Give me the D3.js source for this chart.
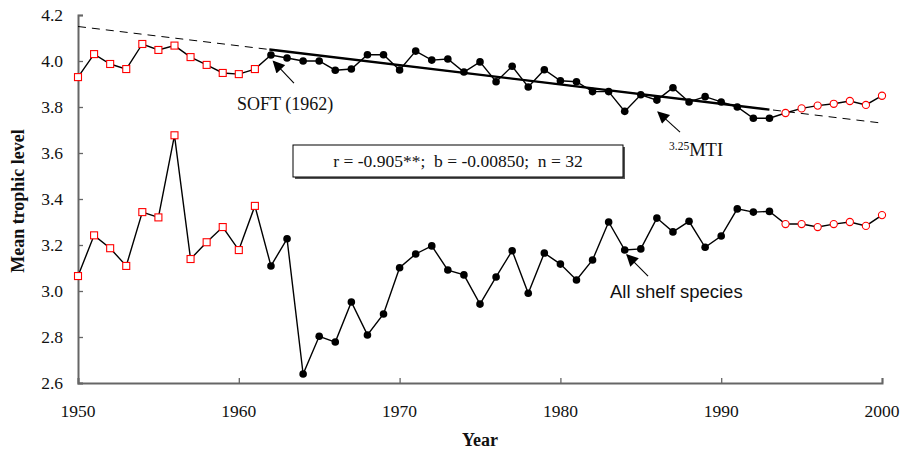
<!DOCTYPE html>
<html lang="en">
<head>
    <meta charset="UTF-8">
    <title>Mean trophic level</title>
    <script src="https://d3js.org/d3.v7.min.js"></script>
    <style>
        body {
            margin: 0;
            background-color: white;
        }
        svg text {
            font-family: "Liberation Serif", "Times New Roman", serif;
            fill: #111;
        }
    </style>
</head>
<body>
    <div id="chart"></div>

    <script>
        // Data
        const years = d3.range(1950, 2001);

        const mtiValues = [
            3.930, 4.030, 3.987, 3.965, 4.074, 4.048, 4.067, 4.017, 3.983, 3.948,
            3.943, 3.965, 4.026, 4.013, 4.000, 4.000, 3.960, 3.965, 4.027, 4.027,
            3.961, 4.043, 4.004, 4.009, 3.952, 3.996, 3.910, 3.977, 3.887, 3.962,
            3.914, 3.910, 3.867, 3.867, 3.781, 3.853, 3.830, 3.884, 3.822, 3.845,
            3.822, 3.800, 3.751, 3.751, 3.774, 3.794, 3.806, 3.814, 3.826, 3.809,
            3.849
        ];

        const shelfValues = [
            3.065, 3.242, 3.186, 3.109, 3.343, 3.320, 3.677, 3.139, 3.212, 3.278,
            3.178, 3.370, 3.109, 3.227, 2.639, 2.803, 2.778, 2.952, 2.809, 2.900,
            3.101, 3.161, 3.196, 3.091, 3.070, 2.943, 3.061, 3.175, 2.990, 3.165,
            3.117, 3.048, 3.135, 3.300, 3.178, 3.183, 3.317, 3.257, 3.303, 3.190,
            3.239, 3.357, 3.343, 3.346, 3.291, 3.291, 3.278, 3.291, 3.300, 3.283,
            3.330
        ];

        // Period boundaries for marker styles
        const fitStart = 1962;
        const fitEnd = 1993;

        // Regression line: value at 1950 and slope per year
        const trendAt1950 = 4.150;
        const trendSlope = -0.0084;

        const xTicks = [1950, 1960, 1970, 1980, 1990, 2000];
        const yTicks = [2.6, 2.8, 3.0, 3.2, 3.4, 3.6, 3.8, 4.0, 4.2];

        const statsText = "r = -0.905**;  b = -0.00850;  n = 32";

        // Layout
        const width = 904;
        const height = 454;
        const margin = { top: 15, right: 22, bottom: 71, left: 78 };

        const svg = d3.select("#chart")
            .append("svg")
            .attr("width", width)
            .attr("height", height);

        const x = d3.scaleLinear()
            .domain([1950, 2000])
            .range([margin.left, width - margin.right]);

        const y = d3.scaleLinear()
            .domain([2.6, 4.2])
            .range([height - margin.bottom, margin.top]);

        // Arrow marker
        svg.append("defs").append("marker")
            .attr("id", "arrow")
            .attr("viewBox", "0 0 10 10")
            .attr("refX", 9)
            .attr("refY", 5)
            .attr("markerWidth", 14)
            .attr("markerHeight", 12)
            .attr("markerUnits", "userSpaceOnUse")
            .attr("orient", "auto")
            .append("path")
            .attr("d", "M0,0 L10,5 L0,10 z")
            .attr("fill", "#000");

        // Axes
        const axisColor = "#666";

        const yAxis = svg.append("g")
            .attr("transform", `translate(${margin.left},0)`)
            .call(d3.axisRight(y).tickValues(yTicks).tickSize(5).tickFormat(""));

        const xAxis = svg.append("g")
            .attr("transform", `translate(0,${height - margin.bottom})`)
            .call(d3.axisTop(x).tickValues(xTicks).tickSize(5).tickFormat(""));

        [xAxis, yAxis].forEach(ax => {
            ax.select(".domain").attr("stroke", axisColor).attr("stroke-width", 2);
            ax.selectAll(".tick line").attr("stroke", axisColor).attr("stroke-width", 1.3);
        });

        svg.selectAll(".ytick-label")
            .data(yTicks)
            .enter().append("text")
            .attr("x", margin.left - 15)
            .attr("y", d => y(d))
            .attr("dy", "0.35em")
            .attr("text-anchor", "end")
            .style("font-size", "17.5px")
            .text(d => d.toFixed(1));

        svg.selectAll(".xtick-label")
            .data(xTicks)
            .enter().append("text")
            .attr("x", d => x(d))
            .attr("y", 417)
            .attr("text-anchor", "middle")
            .style("font-size", "17.5px")
            .text(d => d);

        // Axis titles
        svg.append("text")
            .attr("transform", `translate(24,201) rotate(-90)`)
            .attr("text-anchor", "middle")
            .style("font-size", "18px")
            .style("font-weight", "bold")
            .text("Mean trophic level");

        svg.append("text")
            .attr("x", 480)
            .attr("y", 446)
            .attr("text-anchor", "middle")
            .style("font-size", "18px")
            .style("font-weight", "bold")
            .text("Year");

        // Trend lines
        const trend = yr => trendAt1950 + trendSlope * (yr - 1950);

        svg.append("line")
            .attr("x1", x(1950)).attr("y1", y(trend(1950)))
            .attr("x2", x(2000)).attr("y2", y(trend(2000)))
            .attr("stroke", "#000")
            .attr("stroke-width", 1)
            .attr("stroke-dasharray", "8,6");

        svg.append("line")
            .attr("x1", x(fitStart - 0.1)).attr("y1", y(trend(fitStart - 0.1)))
            .attr("x2", x(fitEnd)).attr("y2", y(trend(fitEnd)))
            .attr("stroke", "#000")
            .attr("stroke-width", 2.4);

        // Series
        const line = d3.line()
            .x(d => x(d.year))
            .y(d => y(d.value));

        function drawSeries(values) {
            const data = years.map((yr, i) => ({ year: yr, value: values[i] }));

            svg.append("path")
                .datum(data)
                .attr("fill", "none")
                .attr("stroke", "#000")
                .attr("stroke-width", 1.4)
                .attr("d", line);

            const early = data.filter(d => d.year < fitStart);
            const mid = data.filter(d => d.year >= fitStart && d.year <= fitEnd);
            const late = data.filter(d => d.year > fitEnd);

            svg.append("g").selectAll("rect")
                .data(early)
                .enter().append("rect")
                .attr("x", d => x(d.year) - 3.5)
                .attr("y", d => y(d.value) - 3.5)
                .attr("width", 7)
                .attr("height", 7)
                .attr("fill", "white")
                .attr("stroke", "#ff0000")
                .attr("stroke-width", 1.1);

            svg.append("g").selectAll("circle")
                .data(mid)
                .enter().append("circle")
                .attr("cx", d => x(d.year))
                .attr("cy", d => y(d.value))
                .attr("r", 3.8)
                .attr("fill", "#000");

            svg.append("g").selectAll("circle")
                .data(late)
                .enter().append("circle")
                .attr("cx", d => x(d.year))
                .attr("cy", d => y(d.value))
                .attr("r", 3.6)
                .attr("fill", "white")
                .attr("stroke", "#ff0000")
                .attr("stroke-width", 1.1);
        }

        drawSeries(mtiValues);
        drawSeries(shelfValues);

        // Annotations (arrow tail -> tip in data coordinates)
        function arrow(from, to) {
            svg.append("line")
                .attr("x1", x(from[0])).attr("y1", y(from[1]))
                .attr("x2", x(to[0])).attr("y2", y(to[1]))
                .attr("stroke", "#000")
                .attr("stroke-width", 1.1)
                .attr("marker-end", "url(#arrow)");
        }

        arrow([1963.43, 3.904], [1962.15, 3.998]);
        svg.append("text")
            .attr("x", 237)
            .attr("y", 110)
            .style("font-size", "18px")
            .text("SOFT (1962)");

        arrow([1987.44, 3.691], [1986.07, 3.778]);
        const mtiLabel = svg.append("text")
            .attr("x", 669)
            .attr("y", 156)
            .style("font-size", "18.5px");
        mtiLabel.append("tspan")
            .attr("dy", "-6")
            .style("font-size", "11.5px")
            .text("3.25");
        mtiLabel.append("tspan")
            .attr("dy", "6")
            .text("MTI");

        arrow([1985.45, 3.065], [1984.14, 3.157]);
        svg.append("text")
            .attr("x", 610)
            .attr("y", 298)
            .style("font-family", "'Liberation Sans', Arial, sans-serif")
            .style("font-size", "18.5px")
            .text("All shelf species");

        // Stats box
        svg.append("rect")
            .attr("x", 295)
            .attr("y", 147)
            .attr("width", 330)
            .attr("height", 32)
            .attr("fill", "#555");

        svg.append("rect")
            .attr("x", 293)
            .attr("y", 145)
            .attr("width", 330)
            .attr("height", 32)
            .attr("fill", "white")
            .attr("stroke", "#000")
            .attr("stroke-width", 1);

        svg.append("text")
            .attr("x", 458)
            .attr("y", 167)
            .attr("text-anchor", "middle")
            .style("font-size", "17.5px")
            .style("white-space", "pre")
            .attr("xml:space", "preserve")
            .text(statsText);
    </script>
</body>
</html>
